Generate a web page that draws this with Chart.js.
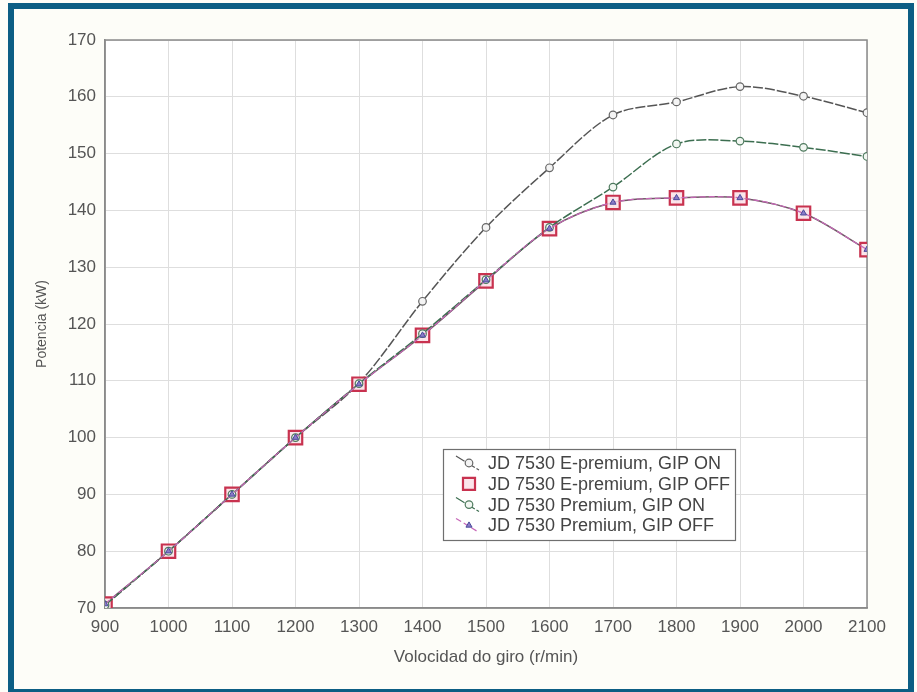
<!DOCTYPE html>
<html>
<head>
<meta charset="utf-8">
<script src="https://cdn.jsdelivr.net/npm/chart.js@4/dist/chart.umd.min.js"></script>
<style>
	body { margin: 0; background: #fff; }
	canvas { position: absolute; left: 0; top: 0; }
	#frame {
		position: absolute; left: 8px; top: 3px; width: 906px; height: 692px;
		box-sizing: border-box; border: 6px solid #0c5e84; pointer-events: none;
	}
</style>
</head>
<body>
<canvas id="myChart" width="917" height="692"></canvas>
<div id="frame"></div>
<script>
// r/min
const rpm = [900, 1000, 1100, 1200, 1300, 1400, 1500, 1600, 1700, 1800, 1900, 2000, 2100];
// kW
const ePremiumOn = [70.5, 80, 90, 100, 109.6, 124, 137, 147.5, 156.8, 159.1, 161.8, 160.1, 157.2];
const ePremiumOff = [70.7, 80, 90, 100, 109.4, 118, 127.6, 136.8, 141.4, 142.2, 142.2, 139.5, 133.1];
const premiumOn = [70.5, 80, 90, 100, 109.5, 118.3, 127.8, 137, 144.1, 151.7, 152.2, 151.1, 149.5];
const premiumOff = [70.7, 80, 90, 100, 109.4, 118, 127.7, 136.8, 141.4, 142.2, 142.2, 139.5, 133.1];
const seriesNames = [
	"JD 7530 E-premium, GIP ON",
	"JD 7530 E-premium, GIP OFF",
	"JD 7530 Premium, GIP ON",
	"JD 7530 Premium, GIP OFF",
];
const LEGEND_AT = [1432, 98]; // top-left corner, in data units

const FONT = "'Liberation Sans', Arial, sans-serif";
const TEXT_COLOR = "#555555";
const toPoints = (vals) => vals.map((v, i) => ({ x: rpm[i], y: v }));

function marker(ctx, style, cx, cy, r) {
	ctx.beginPath();
	if (style === "rect") {
		const s = r * Math.SQRT1_2;
		ctx.rect(cx - s, cy - s, s * 2, s * 2);
	} else if (style === "triangle") {
		ctx.moveTo(cx, cy - r);
		ctx.lineTo(cx + r * 0.87, cy + r * 0.5);
		ctx.lineTo(cx - r * 0.87, cy + r * 0.5);
		ctx.closePath();
	} else {
		ctx.arc(cx, cy, r, 0, Math.PI * 2);
	}
	ctx.fill();
	ctx.stroke();
}

const background = {
	id: "background",
	beforeDraw(chart) {
		const { ctx, chartArea: a } = chart;
		ctx.save();
		ctx.fillStyle = "#fdfdf8";
		ctx.fillRect(0, 0, chart.width, chart.height);
		ctx.fillStyle = "#ffffff";
		ctx.fillRect(a.left, a.top, a.right - a.left, a.bottom - a.top);
		ctx.restore();
	},
	beforeDatasetsDraw(chart) {
		const { ctx, chartArea: a } = chart;
		ctx.save();
		ctx.strokeStyle = "#8a8a8a";
		ctx.lineWidth = 1.5;
		ctx.strokeRect(a.left, a.top, a.right - a.left, a.bottom - a.top);
		ctx.restore();
	},
};

const legendBox = {
	id: "legendBox",
	afterDraw(chart) {
		const { ctx } = chart;
		const { x, y } = chart.scales;
		const left = Math.round(x.getPixelForValue(LEGEND_AT[0]));
		const top = Math.round(y.getPixelForValue(LEGEND_AT[1]));
		const w = 292, h = 91;
		ctx.save();
		ctx.fillStyle = "#ffffff";
		ctx.fillRect(left, top, w, h);
		ctx.strokeStyle = "#6f6f6f";
		ctx.lineWidth = 1.2;
		ctx.strokeRect(left + 0.5, top + 0.5, w, h);
		chart.data.datasets.forEach((ds, i) => {
			const cy = top + 14 + i * 20.8;
			const cx = left + 26;
			if (i !== 1) {
				ctx.strokeStyle = ds.borderColor;
				ctx.lineWidth = 1.2;
				ctx.setLineDash(ds.borderDash || []);
				ctx.beginPath();
				ctx.moveTo(cx - 13, cy - 7);
				ctx.lineTo(cx + 10, cy + 7);
				ctx.stroke();
				ctx.setLineDash([]);
			}
			ctx.fillStyle = ds.pointBackgroundColor;
			ctx.strokeStyle = ds.pointBorderColor;
			ctx.lineWidth = ds.pointBorderWidth;
			marker(ctx, ds.pointStyle, cx, cy, i === 1 ? 8.5 : ds.pointRadius);
			ctx.fillStyle = "#444444";
			ctx.font = "18px " + FONT;
			ctx.textBaseline = "middle";
			ctx.fillText(ds.label, left + 45, cy + 1);
		});
		ctx.restore();
	},
};

const ctx = document.getElementById("myChart");

const myChart = new Chart(ctx, {
	type: "line",
	plugins: [background, legendBox],
	data: {
		datasets: [
			{
				label: seriesNames[0],
				data: toPoints(ePremiumOn),
				borderColor: "#555555",
				borderWidth: 1.5,
				borderDash: [10, 2],
				pointStyle: "circle",
				pointRadius: 3.8,
				pointBorderWidth: 1.2,
				pointBorderColor: "#666666",
				pointBackgroundColor: "#f4f4f4",
				order: 3,
			},
			{
				label: seriesNames[1],
				data: toPoints(ePremiumOff),
				borderColor: "#6e5a64",
				borderWidth: 1.5,
				pointStyle: "rect",
				pointRadius: 9.5,
				pointBorderWidth: 2.2,
				pointBorderColor: "#c8324f",
				pointBackgroundColor: "rgba(250, 225, 232, 0.85)",
				order: 2,
			},
			{
				label: seriesNames[2],
				data: toPoints(premiumOn),
				borderColor: "#3c6e50",
				borderWidth: 1.5,
				borderDash: [10, 2],
				pointStyle: "circle",
				pointRadius: 3.8,
				pointBorderWidth: 1.2,
				pointBorderColor: "#4e7a5e",
				pointBackgroundColor: "#f2f7f2",
				order: 1,
			},
			{
				label: seriesNames[3],
				data: toPoints(premiumOff),
				borderColor: "#c768b8",
				borderWidth: 1.2,
				borderDash: [6, 3],
				pointStyle: "triangle",
				pointRadius: 3.5,
				pointBorderWidth: 1,
				pointBorderColor: "#4a4a9a",
				pointBackgroundColor: "#8a7ac8",
				order: 0,
			},
		],
	},
	options: {
		responsive: false,
		animation: false,
		layout: {
			padding: { left: 24, top: 40, right: 50, bottom: 14 },
		},
		elements: {
			line: { tension: 0.32 },
		},
		plugins: {
			legend: { display: false },
			tooltip: { enabled: false },
		},
		scales: {
			x: {
				type: "linear",
				min: 900,
				max: 2100,
				afterFit: (scale) => { scale.height = 70; },
				ticks: {
					stepSize: 100,
					padding: 9,
					maxRotation: 0,
					color: TEXT_COLOR,
					font: { family: FONT, size: 17 },
					callback: (v) => String(v),
				},
				grid: { color: "#dedede", lineWidth: 1, drawTicks: false },
				border: { color: "#8a8a8a", width: 1.5 },
				title: {
					display: true,
					text: "Volocidad do giro (r/min)",
					color: TEXT_COLOR,
					font: { family: FONT, size: 17 },
					padding: { top: 0, bottom: 10 },
				},
			},
			y: {
				type: "linear",
				min: 70,
				max: 170,
				afterFit: (scale) => { scale.width = 81; },
				ticks: {
					stepSize: 10,
					padding: 9,
					color: TEXT_COLOR,
					font: { family: FONT, size: 17 },
					callback: (v) => String(v),
				},
				grid: { color: "#dedede", lineWidth: 1, drawTicks: false },
				border: { color: "#8a8a8a", width: 1.5 },
				title: {
					display: true,
					text: "Potencia (kW)",
					color: TEXT_COLOR,
					font: { family: FONT, size: 14 },
					padding: { top: 10, bottom: 0 },
				},
			},
		},
	},
});
</script>
</body>
</html>
